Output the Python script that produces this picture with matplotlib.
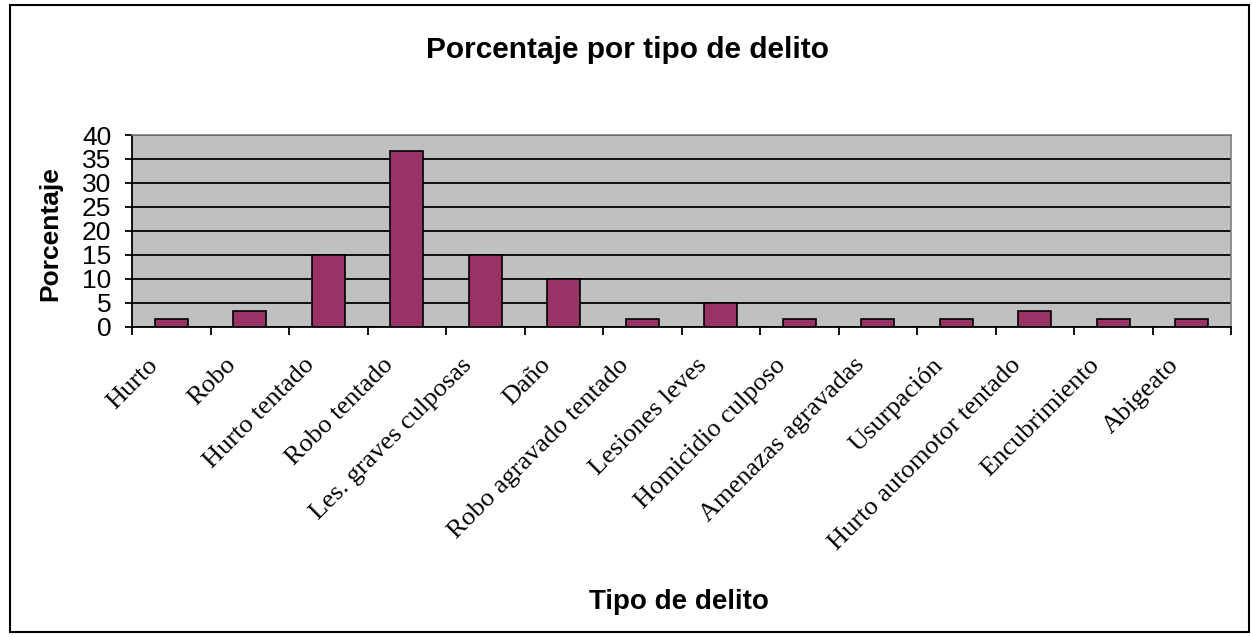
import matplotlib.pyplot as plt
from matplotlib.patches import Rectangle

# Datos
categorias = ['Hurto', 'Robo', 'Hurto tentado', 'Robo tentado', 'Les. graves culposas',
              'Daño', 'Robo agravado tentado', 'Lesiones leves', 'Homicidio culposo',
              'Amenazas agravadas', 'Usurpación', 'Hurto automotor tentado',
              'Encubrimiento', 'Abigeato']
porcentajes = [1.67, 3.33, 15.0, 36.67, 15.0, 10.0, 1.67, 5.0, 1.67, 1.67, 1.67, 3.33, 1.67, 1.67]
y_ticks = [0, 5, 10, 15, 20, 25, 30, 35, 40]

W, H = 1252, 637
fig = plt.figure(figsize=(W / 100, H / 100), dpi=100)
fig.patch.set_facecolor('white')

# marco exterior
fig.patches.append(Rectangle((10 / W, 5 / H), 1239 / W, 627 / H, transform=fig.transFigure,
                             fill=False, edgecolor='black', linewidth=1.5))

ax = fig.add_axes([132 / W, 1 - 327 / H, (1231 - 132) / W, (327 - 135) / H])
ax.set_facecolor('#C0C0C0')

x = list(range(len(categorias)))
ax.bar(x, porcentajes, width=0.42, color='#993366', edgecolor='black', linewidth=1.2, zorder=3)

ax.set_xlim(-0.5, len(categorias) - 0.5)
ax.set_ylim(0, 40)
ax.set_yticks(y_ticks)
ax.set_yticklabels([str(v) for v in y_ticks], fontfamily='Liberation Sans', fontsize=19)
ax.yaxis.grid(True, color='black', linewidth=1.3, zorder=1)
ax.set_axisbelow(True)

# ticks entre categorias
ax.set_xticks([i - 0.5 for i in range(len(categorias) + 1)])
ax.set_xticklabels([])
ax.tick_params(axis='x', direction='out', length=6, width=1.3, color='black')
ax.tick_params(axis='y', direction='out', length=5, width=1.3, color='black', pad=10)

for i, c in enumerate(categorias):
    ax.annotate(c, xy=(i, 0), xycoords=('data', 'axes fraction'), xytext=(-9, -28),
                textcoords='offset points', rotation=45, ha='right', va='baseline',
                rotation_mode='anchor', fontfamily='Liberation Serif', fontsize=19)

for s in ['left', 'bottom']:
    ax.spines[s].set_color('black')
    ax.spines[s].set_linewidth(1.3)
for s in ['top', 'right']:
    ax.spines[s].set_color('#808080')
    ax.spines[s].set_linewidth(1.2)

fig.text(627 / W, 1 - 50 / H, 'Porcentaje por tipo de delito', ha='center', va='center',
         fontfamily='Liberation Sans', fontsize=21.5, fontweight='bold')
fig.text(50 / W, 1 - 234 / H, 'Porcentaje', ha='center', va='center', rotation=90,
         fontfamily='Liberation Sans', fontsize=19, fontweight='bold')
fig.text(679 / W, 1 - 602 / H, 'Tipo de delito', ha='center', va='center',
         fontfamily='Liberation Sans', fontsize=20, fontweight='bold')

fig.savefig('out.png', dpi=100)
